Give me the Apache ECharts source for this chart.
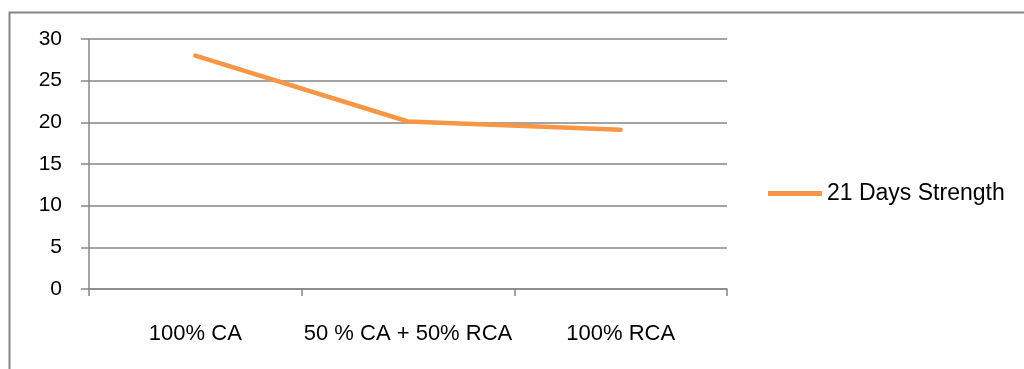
<!DOCTYPE html>
<html><head><meta charset="utf-8">
<script src="https://cdn.jsdelivr.net/npm/echarts@6/dist/echarts.min.js"></script>
<style>html,body{margin:0;padding:0;background:#fff}#c{width:1024px;height:369px}</style>
</head><body><div id="c"></div>
<script>
const categories = ['100% CA', '50 % CA + 50% RCA', '100% RCA'];
const strength21 = [28, 20.1, 19.1];
const seriesName = '21 Days Strength';
const yTicks = { min: 0, max: 30, interval: 5 };

const chart = echarts.init(document.getElementById('c'), null, { renderer: 'canvas' });
const REG = '"Liberation Sans", Arial, sans-serif';
chart.setOption({
  animation: false,
  backgroundColor: '#fff',
  graphic: [{
    type: 'rect', left: 7, top: 10, shape: { x: 0, y: 0, width: 1100, height: 400 },
    style: { fill: 'none', stroke: '#868686', lineWidth: 2 }, silent: true, z: -1
  }],
  grid: { left: 89, right: 297, top: 39, bottom: 80, containLabel: false },
  legend: {
    left: 763, top: 177, icon: 'rect', itemWidth: 54, itemHeight: 5,
    textStyle: { fontFamily: REG, fontSize: 23, color: '#000' },
    data: [seriesName]
  },
  xAxis: {
    type: 'category', data: categories, boundaryGap: true,
    axisLine: { show: true, lineStyle: { color: '#868686', width: 1.5 } },
    axisTick: { show: true, interval: 0, length: 7, lineStyle: { color: '#868686', width: 1.5 } },
    axisLabel: { interval: 0, hideOverlap: false, margin: 34, fontFamily: REG, fontSize: 22, color: '#000' },
    splitLine: { show: false }
  },
  yAxis: {
    type: 'value', min: yTicks.min, max: yTicks.max, interval: yTicks.interval,
    axisLine: { show: true, lineStyle: { color: '#868686', width: 1.5 } },
    axisTick: { show: true, length: 8, lineStyle: { color: '#868686', width: 1.5 } },
    axisLabel: { margin: 27, fontFamily: REG, fontSize: 21, color: '#000' },
    splitLine: { show: true, lineStyle: { color: '#868686', width: 1.5 } }
  },
  series: [{
    name: seriesName, type: 'line', data: strength21,
    showSymbol: false, symbol: 'none',
    lineStyle: { color: '#F79646', width: 4.5, cap: 'round', join: 'round' },
    itemStyle: { color: '#F79646' }
  }]
});
</script></body></html>
